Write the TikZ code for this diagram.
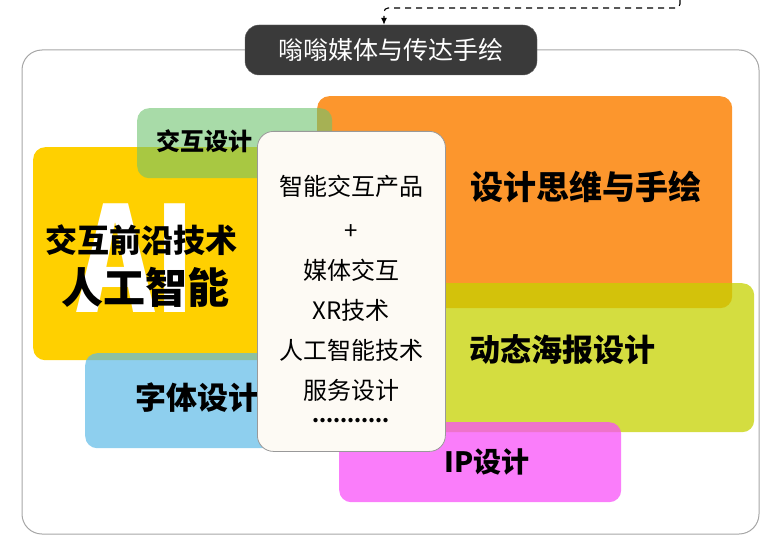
\documentclass[tikz,border=0pt]{standalone}
\usepackage{fontspec}
\setmainfont{Noto Sans CJK SC}[BoldFont={Noto Sans CJK SC Black}]
\usetikzlibrary{arrows.meta,positioning}
\definecolor{tileyellow}{RGB}{255,208,0}
\definecolor{tilegreen}{RGB}{110,195,110}
\definecolor{tileorange}{RGB}{252,150,45}
\definecolor{tilelime}{RGB}{198,210,0}
\definecolor{tileblue}{RGB}{94,186,231}
\definecolor{tilepink}{RGB}{248,81,248}
\definecolor{titlegray}{RGB}{58,58,58}
\definecolor{cardfill}{RGB}{253,250,244}
\tikzset{
  frame/.style={draw=black!35, line width=1pt, rounded corners=20pt},
  titlebox/.style={fill=titlegray, draw=black!60, rounded corners=14pt, minimum width=292pt, minimum height=50pt, inner sep=0pt, text=white, font=\fontsize{25}{25}\selectfont},
  tile/.style={anchor=north west, rounded corners=12pt, inner sep=0pt, draw=none},
  tiletext/.style={font=\bfseries, text=black, inner sep=0pt},
  card/.style={anchor=north west, fill=cardfill, draw=black!40, line width=0.8pt, rounded corners=16pt, inner sep=0pt, minimum width=188pt, minimum height=320pt},
  cardtext/.style={font=\fontsize{24}{24}\selectfont, inner sep=0pt},
  dashedarrow/.style={-{Latex[length=7pt,width=6pt]}, line width=1.1pt, dash pattern=on 6pt off 5pt, rounded corners=4pt}
}
\begin{document}
\begin{tikzpicture}[x=1pt,y=-1pt]
\useasboundingbox (0,0) rectangle (778,548);
\draw[frame] (22,50) rectangle (759,534);
\node[tile, fill=tileyellow, minimum width=267pt, minimum height=213pt] (ai) at (33,147) {};
\node[text=white, font=\bfseries\fontsize{146}{146}\selectfont, inner sep=0pt, xscale=0.8] (aimark) at (136,258) {AI};
\node[tile, fill=tileorange, minimum width=415pt, minimum height=212pt] (draw) at (317,96) {};
\node[tile, fill=tilegreen, fill opacity=0.6, minimum width=195pt, minimum height=70pt] (ixd) at (137,108) {};
\node[tile, fill=tileblue, fill opacity=0.7, minimum width=215pt, minimum height=95pt] (type) at (85,353) {};
\node[tile, fill=tilelime, fill opacity=0.75, minimum width=374pt, minimum height=149pt] (poster) at (380,283) {};
\node[tile, fill=tilepink, fill opacity=0.75, minimum width=282pt, minimum height=80pt] (ip) at (339,422) {};
\node[tiletext, font=\bfseries\fontsize{24}{24}\selectfont] (ixdlab) at (204,141) {交互设计};
\node[tiletext, font=\bfseries\fontsize{32}{32}\selectfont] (ailab) at (141,240) {交互前沿技术};
\node[tiletext, font=\bfseries\fontsize{42}{42}\selectfont] (ailab2) at (145,287) {人工智能};
\node[tiletext, font=\bfseries\fontsize{33}{33}\selectfont] (drawlab) at (586,187) {设计思维与手绘};
\node[tiletext, font=\bfseries\fontsize{31}{31}\selectfont] (typelab) at (197,398) {字体设计};
\node[tiletext, font=\bfseries\fontsize{31}{31}\selectfont] (posterlab) at (562,350) {动态海报设计};
\node[tiletext, font=\bfseries\fontsize{28}{28}\selectfont] (iplab) at (487,462) {IP设计};
\node[card] (core) at (257,131) {};
\node[cardtext] (c1) at (351,186) {智能交互产品};
\node[cardtext] (c2) at (351,232) {+};
\node[cardtext] (c3) at (351,270) {媒体交互};
\node[cardtext] (c4) at (351,310) {XR技术};
\node[cardtext] (c5) at (351,350) {人工智能技术};
\node[cardtext] (c6) at (351,390) {服务设计};
\node[cardtext, font=\bfseries\fontsize{20}{20}\selectfont] (c7) at (351,421) {...........};
\node[titlebox] (title) at (391,50) {嗡嗡媒体与传达手绘};
\coordinate (src) at (680,0);
\draw[dashedarrow] (src) |- ([xshift=-7pt]title.north |- 0,8) -- ([xshift=-7pt]title.north);
\end{tikzpicture}
\end{document}
